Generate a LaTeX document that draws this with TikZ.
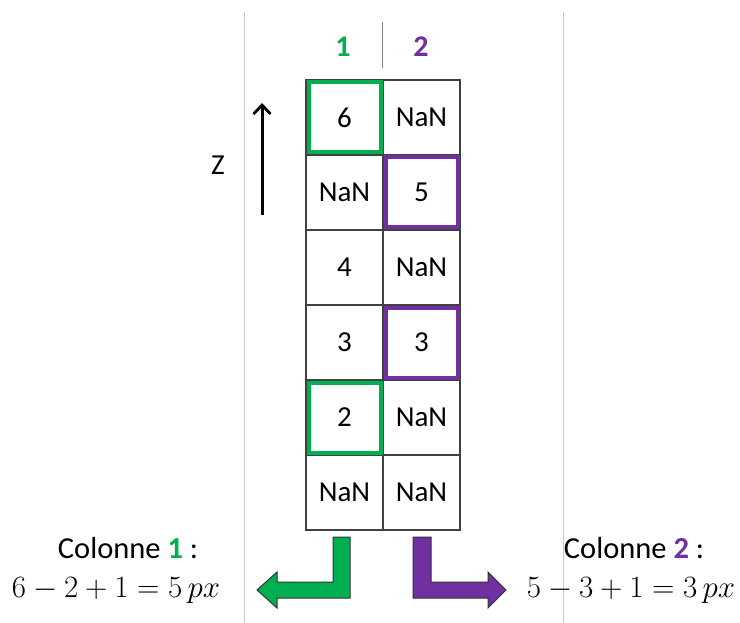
\RequirePackage{fix-cm}
\documentclass[tikz,border=0pt]{standalone}
\usepackage{fontspec}
\setmainfont{Carlito}
\usetikzlibrary{arrows.meta}
\definecolor{cgreen}{HTML}{00B050}
\definecolor{cpurple}{HTML}{7030A0}
\definecolor{gridc}{HTML}{404040}
\definecolor{lightl}{HTML}{C8C8C8}
\begin{document}
\begin{tikzpicture}[x=1pt,y=-1pt,
  cell/.style={draw=gridc,line width=1.2pt,minimum width=77pt,minimum height=75pt,inner sep=0pt,font=\fontsize{29}{34}\selectfont},
  gbox/.style={draw=cgreen,line width=4pt,minimum width=72pt,minimum height=70pt,inner sep=0pt},
  pbox/.style={draw=cpurple,line width=4pt,minimum width=72pt,minimum height=70pt,inner sep=0pt},
  txt/.style={font=\fontsize{30.5}{35}\selectfont,inner sep=0pt},
  mtxt/.style={font=\fontsize{31}{36}\selectfont,inner sep=0pt},
  hdr/.style={font=\fontsize{30}{34}\selectfont\bfseries,inner sep=0pt},
  sep/.style={draw=lightl,line width=0.9pt},
  bigarrow/.style={draw=black!80,line width=1pt,line join=miter}
]
\useasboundingbox (0,0) rectangle (740,623);
\fill[white] (0,0) rectangle (740,623);
% separators
\coordinate (l1) at (244,12); \coordinate (l1b) at (244,623);
\coordinate (l2) at (563,12); \coordinate (l2b) at (563,623);
\draw[sep] (l1) -- (l1b);
\draw[sep] (l2) -- (l2b);
\coordinate (d1) at (382,22); \coordinate (d2) at (382,68);
\draw[draw=gray,line width=1pt] (d1) -- (d2);
% headers
\node[hdr,text=cgreen] (h1) at (343,47) {1};
\node[hdr,text=cpurple] (h2) at (421,47) {2};
% grid
\foreach \r/\a/\b [count=\i] in {1/6/NaN,2/NaN/5,3/4/NaN,4/3/3,5/2/NaN,6/NaN/NaN}{
  \node[cell] (c\r a) at (344.5,{80+37.5+75*(\r-1)}) {\a};
  \node[cell] (c\r b) at (421.5,{80+37.5+75*(\r-1)}) {\b};
}
% highlights
\node[gbox] (g1) at (c1a) {};
\node[gbox] (g5) at (c5a) {};
\node[pbox] (p2) at (c2b) {};
\node[pbox] (p4) at (c4b) {};
% Z axis
\coordinate (zb) at (262,215);
\coordinate (zt) at (262,103);
\draw[line width=3pt,-{Straight Barb[length=9pt,width=17pt,line width=2.8pt]}] (zb) -- (zt);
\node[font=\fontsize{29}{34}\selectfont,inner sep=0pt] (z) at (218,165) {Z};
% bottom arrows
\fill[cgreen] (333,537) -- (350,537) -- (350,598) -- (277,598) -- (277,608) -- (257,590) -- (277,572) -- (277,582) -- (333,582) -- cycle;
\draw[bigarrow] (333,537) -- (350,537) -- (350,598) -- (277,598) -- (277,608) -- (257,590) -- (277,572) -- (277,582) -- (333,582) -- cycle;
\fill[cpurple] (413,537) -- (431,537) -- (431,582) -- (488,582) -- (488,572) -- (506,590) -- (488,608) -- (488,598) -- (413,598) -- cycle;
\draw[bigarrow] (413,537) -- (431,537) -- (431,582) -- (488,582) -- (488,572) -- (506,590) -- (488,608) -- (488,598) -- (413,598) -- cycle;
% texts
\node[txt] (t1) at (128,548) {Colonne \textcolor{cgreen}{\textbf{1}} :};
\node[mtxt] (m1) at (116,591) {$6-2+1=5\,px$};
\node[txt] (t2) at (634,548) {Colonne \textcolor{cpurple}{\textbf{2}} :};
\node[mtxt] (m2) at (631,591) {$5-3+1=3\,px$};
\end{tikzpicture}
\end{document}
